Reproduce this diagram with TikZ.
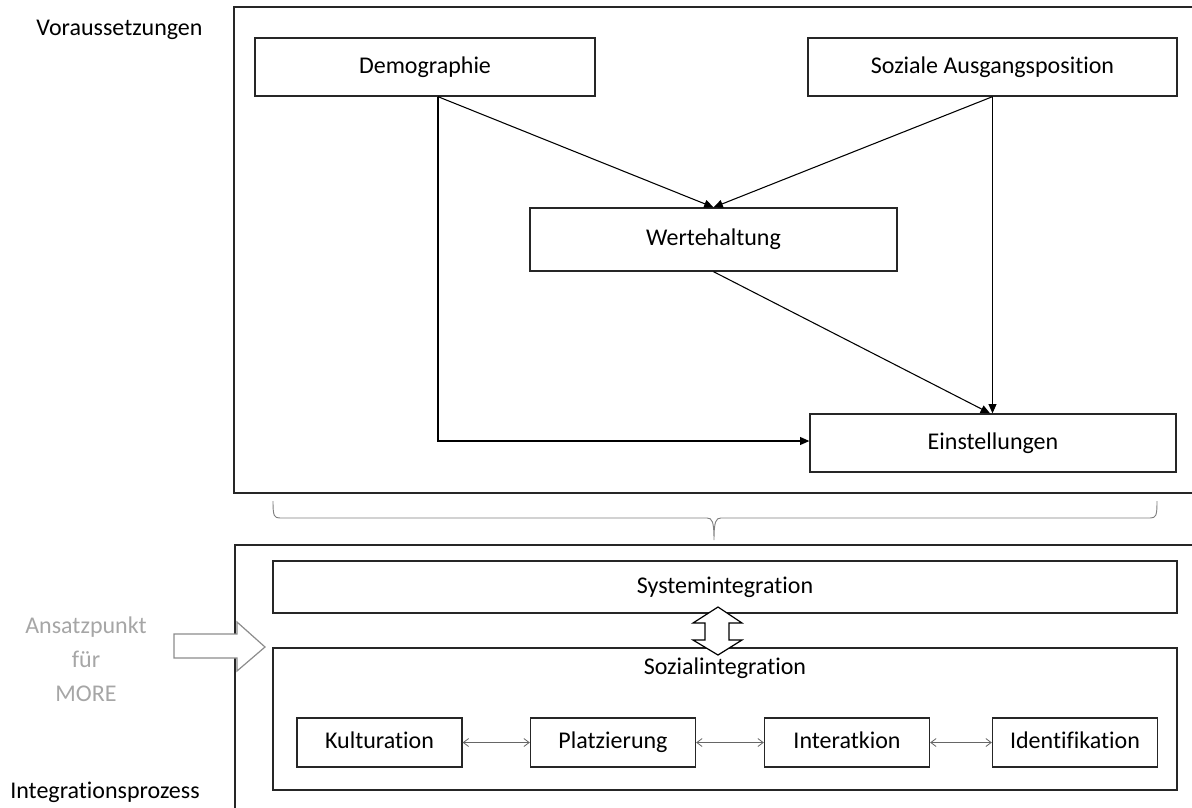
\documentclass[tikz,border=0pt]{standalone}
\usepackage{fontspec}
\setmainfont{Carlito}[RawFeature={-liga;-clig;-dlig}]
\usetikzlibrary{calc}
\usetikzlibrary{arrows.meta}

\begin{document}
\begin{tikzpicture}[x=0.75pt, y=-0.75pt,
  font=\fontsize{18}{21}\selectfont,
  box/.style={draw=black!85, line width=1pt, fill=white, inner sep=0pt, text height=12.5pt, text depth=3.5pt},
  flow/.style={draw, line width=0.8pt, -{Triangle[length=7pt,width=6pt]}},
  link/.style={draw=black!60, line width=0.6pt, {Straight Barb[length=4pt,width=6pt]}-{Straight Barb[length=4pt,width=6pt]}},
  hint/.style={text=black!35}]

\useasboundingbox (0,0) rectangle (1192,807);
\clip (0,0) rectangle (1192,807);

% outer frames
\draw[black!85, line width=1pt] (234,7) rectangle (1200,493);
\draw[black!85, line width=1pt] (235,545) rectangle (1200,820);

\node[anchor=base] (vor) at (119.5,35) {Voraussetzungen};
\node[anchor=base] (int) at (105,798) {Integrationsprozess};

% upper part
\node[box, minimum width=255pt, minimum height=43.5pt] (demo) at (425,67) {Demographie};
\node[box, minimum width=276.75pt, minimum height=43.5pt] (soz) at (992.5,67) {Soziale Ausgangsposition};
\node[box, minimum width=275.25pt, minimum height=47.25pt] (wert) at (713.5,239.5) {Wertehaltung};
\node[box, minimum width=274.5pt, minimum height=43.5pt] (einst) at (993,443) {Einstellungen};

\coordinate (d0) at ($(demo.south)+(13,0)$);
\draw[flow] (d0) -- (wert.north);
\draw[flow] (soz.south) -- (wert.north);
\draw[flow] (soz.south) -- (soz.south |- einst.north);
\draw[flow] (wert.south) -- ($(einst.north)+(-3,0)$);
\draw[flow] (d0) |- ($(einst.west)+(0,-2)$);

% brace
\draw[black!50, line width=0.7pt] (273,501) .. controls (273,516) and (274,518) .. (280,518)
  -- (707,518) .. controls (712,518) and (714,521) .. (714,540)
  .. controls (714,521) and (716,518) .. (721,518) -- (1150,518)
  .. controls (1156,518) and (1157,516) .. (1157,501);

% lower part
\node[box, minimum width=678pt, minimum height=39pt] (sys) at (725,587) {Systemintegration};
\node[box, minimum width=678pt, minimum height=106.5pt] (sozi) at (725,719) {};
\node (sozil) at (725,668) {Sozialintegration};

\draw[black, line width=0.9pt, fill=white] (718,607) -- (742,623) -- (729,623) -- (729,640)
  -- (742,640) -- (718,655) -- (693,640) -- (705,640) -- (705,623) -- (693,623) -- cycle;

\draw[black!45, line width=0.9pt, fill=white] (174,634) -- (237,634) -- (237,622) -- (265,647)
  -- (237,671) -- (237,658) -- (174,658) -- cycle;
\node[hint, align=center, font=\fontsize{18}{25.5}\selectfont] (ans) at (86,659) {Ansatzpunkt\\für\\MORE};

\node[box, minimum width=123.75pt, minimum height=36.75pt] (kul) at (379.5,742.5) {Kulturation};
\node[box, minimum width=123.75pt, minimum height=36.75pt] (pla) at (613,742.5) {Platzierung};
\node[box, minimum width=123.75pt, minimum height=36.75pt] (inter) at (847,742.5) {Interatkion};
\node[box, minimum width=123.75pt, minimum height=36.75pt] (ident) at (1075,742.5) {Identifikation};

\draw[link] (kul) -- (pla);
\draw[link] (pla) -- (inter);
\draw[link] (inter) -- (ident);

\end{tikzpicture}
\end{document}
